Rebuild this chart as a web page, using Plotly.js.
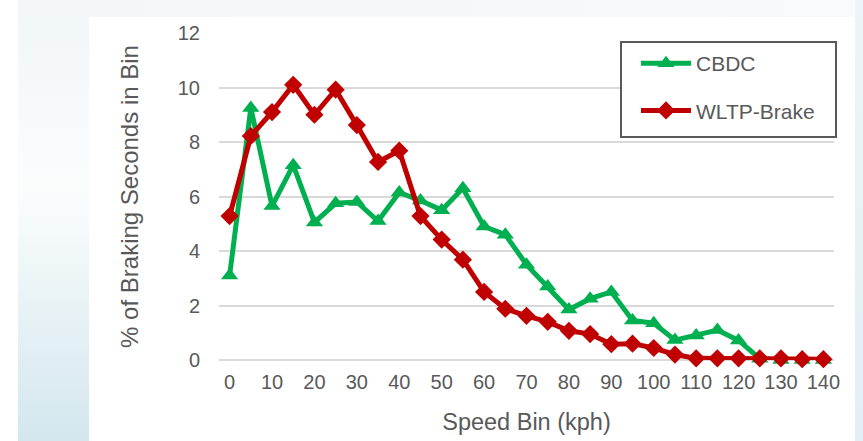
<!DOCTYPE html>
<html>
<head>
<meta charset="utf-8">
<script src="https://cdn.plot.ly/plotly-3.0.1.min.js"></script>
<style>
  html, body { margin: 0; padding: 0; width: 863px; height: 441px; overflow: hidden; background: #ffffff; }
  #bgtop { position: absolute; left: 18px; top: 0; width: 845px; height: 17px; background: linear-gradient(to right, #f3f7f9, #f8fafb); }
  #bgleft { position: absolute; left: 18px; top: 17px; width: 71px; height: 424px; background: linear-gradient(to bottom, #f1f6f8 0%, #fbfdfd 40%, #e4f0f4 75%, #d3e7ee 100%); }
  #bgright { position: absolute; left: 855px; top: 0; width: 8px; height: 441px; background: linear-gradient(to bottom, #eef5f8, #e2eff5); }
  #chart { position: absolute; left: 0; top: 0; width: 863px; height: 441px; }
</style>
</head>
<body>
<div id="bgtop"></div>
<div id="bgleft"></div>
<div id="bgright"></div>
<div id="chart"></div>
<script>
const speedBins = [0, 5, 10, 15, 20, 25, 30, 35, 40, 45, 50, 55, 60, 65, 70, 75, 80, 85, 90, 95, 100, 105, 110, 115, 120, 125, 130, 135, 140];
const cbdc = [3.1, 9.25, 5.65, 7.15, 5.05, 5.75, 5.8, 5.1, 6.15, 5.85, 5.5, 6.3, 4.9, 4.6, 3.5, 2.7, 1.85, 2.25, 2.5, 1.45, 1.35, 0.73, 0.9, 1.1, 0.72, 0.05, 0, 0, 0];
const wltp = [5.28, 8.22, 9.1, 10.1, 9.0, 9.92, 8.62, 7.27, 7.68, 5.28, 4.42, 3.68, 2.5, 1.88, 1.62, 1.4, 1.07, 0.95, 0.58, 0.6, 0.44, 0.2, 0.06, 0.06, 0.06, 0.06, 0.06, 0.03, 0.03];
const xTicks = [0, 10, 20, 30, 40, 50, 60, 70, 80, 90, 100, 110, 120, 130, 140];
const yTicks = [0, 2, 4, 6, 8, 10, 12];
const seriesNames = ['CBDC', 'WLTP-Brake'];

const traces = [
  {
    x: speedBins, y: cbdc, name: seriesNames[0], type: 'scatter', mode: 'lines+markers',
    legendgroup: 'a', cliponaxis: false,
    line: { color: '#00b050', width: 5 },
    marker: { symbol: 'triangle-up', size: 15, color: '#00b050' }
  },
  {
    x: speedBins, y: wltp, name: seriesNames[1], type: 'scatter', mode: 'lines+markers',
    legendgroup: 'b', cliponaxis: false,
    line: { color: '#c00000', width: 5 },
    marker: { symbol: 'diamond', size: 14, color: '#c00000' }
  }
];

const layout = {
  width: 863, height: 441,
  paper_bgcolor: 'rgba(0,0,0,0)',
  plot_bgcolor: 'rgba(0,0,0,0)',
  margin: { l: 219, r: 29, t: 33, b: 81, autoexpand: false },
  font: { family: 'Liberation Sans, Arial, sans-serif', color: '#595959', size: 20 },
  shapes: [
    { type: 'rect', xref: 'paper', yref: 'paper', layer: 'above',
      x0: (621 - 219) / 615, x1: (836 - 219) / 615, y0: (360 - 137) / 327, y1: (360 - 42) / 327,
      fillcolor: '#ffffff', line: { color: '#595959', width: 2 } }
  ],
  xaxis: {
    range: [-2.5, 142.5],
    tickvals: xTicks, ticktext: xTicks.map(String),
    showgrid: false, zeroline: false, showline: false,
    ticks: '', ticklabelstandoff: 8, tickangle: 0,
    tickfont: { size: 20, color: '#595959' },
    title: { text: 'Speed Bin (kph)', font: { size: 23.5, color: '#595959' }, standoff: 21 }
  },
  yaxis: {
    range: [0, 12],
    tickvals: yTicks,
    showgrid: true, gridcolor: '#d9d9d9', gridwidth: 2,
    zeroline: true, zerolinecolor: '#d9d9d9', zerolinewidth: 2,
    showline: false, ticks: '', ticklabelstandoff: 18,
    tickfont: { size: 20, color: '#595959' },
    title: { text: '% of Braking Seconds in Bin', font: { size: 24, color: '#595959' }, standoff: 32 }
  },
  showlegend: true,
  legend: {
    x: (636 - 219) / 615, xref: 'paper', xanchor: 'left',
    y: (360 - 43) / 327, yref: 'paper', yanchor: 'top',
    bgcolor: 'rgba(0,0,0,0)', borderwidth: 0,
    font: { size: 21, color: '#595959' },
    tracegroupgap: 17,
    itemwidth: 50
  }
};

Plotly.newPlot('chart', traces, layout, { displayModeBar: false, staticPlot: true });
</script>
</body>
</html>
